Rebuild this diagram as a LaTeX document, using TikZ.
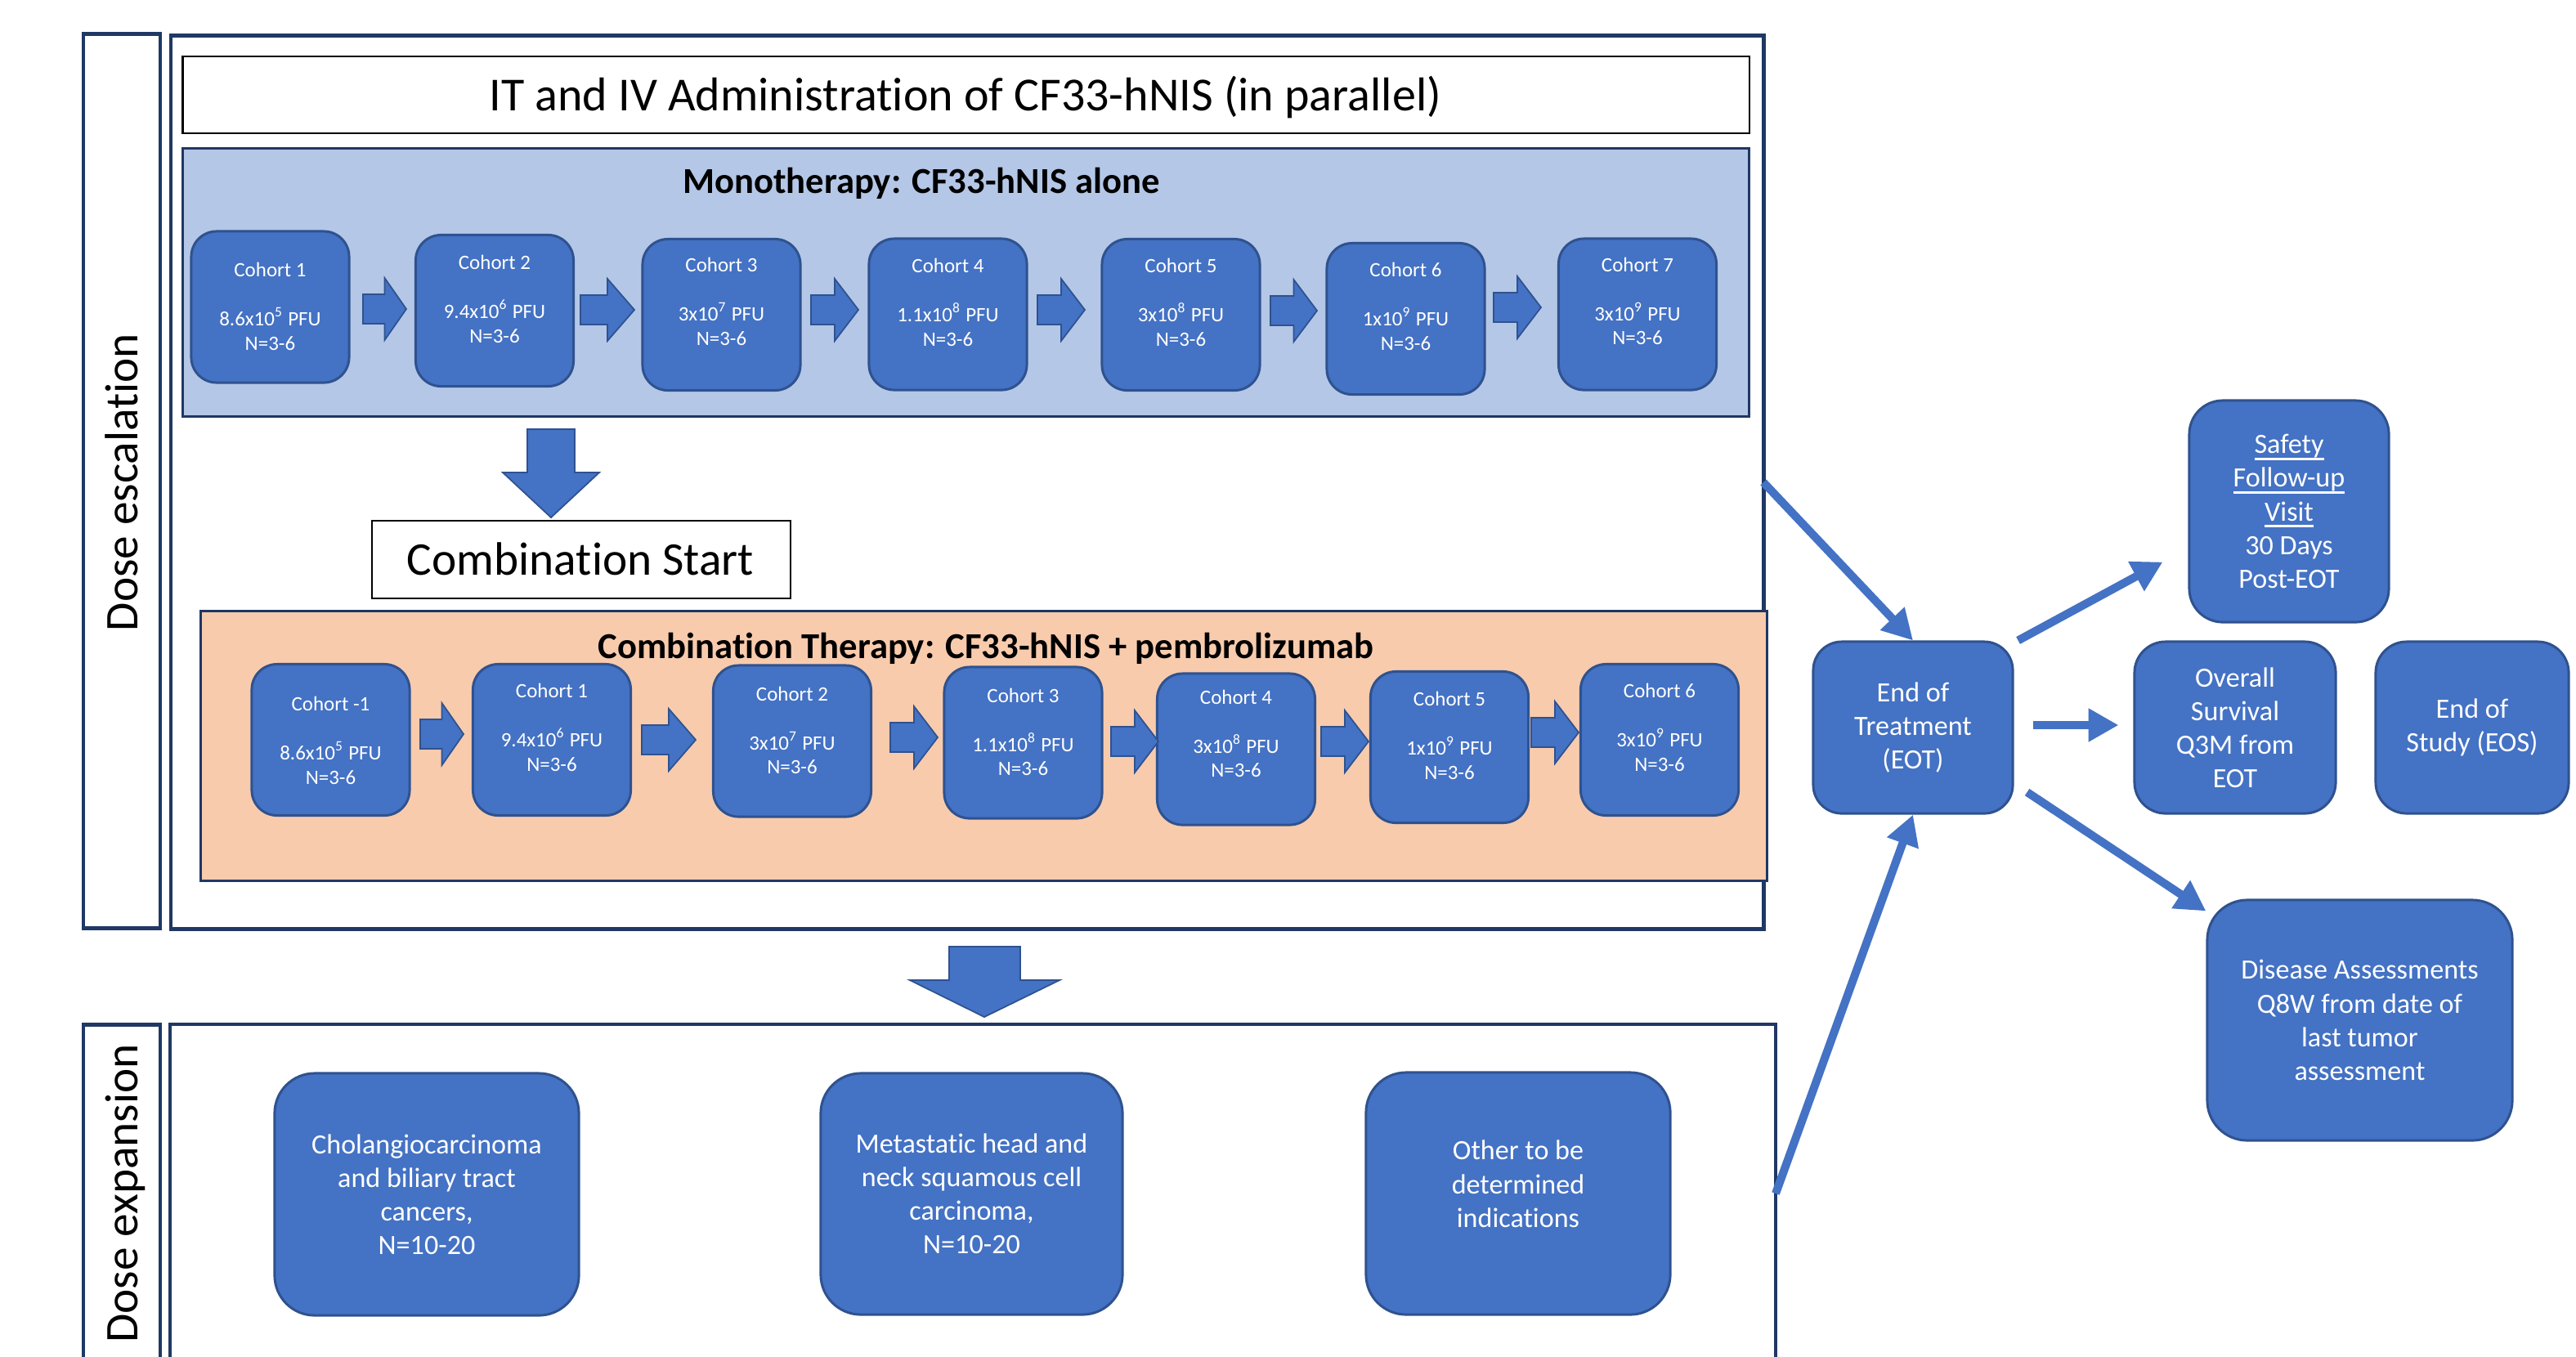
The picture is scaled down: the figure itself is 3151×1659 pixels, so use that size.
\documentclass[tikz,border=0pt]{standalone}
\usepackage{fontspec}
\setmainfont{Carlito}[Ligatures=NoCommon]
\usetikzlibrary{arrows.meta,calc}
\definecolor{boxblue}{HTML}{4472C4}
\definecolor{boxedge}{HTML}{2F528F}
\definecolor{monofill}{HTML}{B4C7E7}
\definecolor{combofill}{HTML}{F8CBAD}
\definecolor{navy}{HTML}{1F3864}
\newcommand\rblock[3]{%
  \filldraw[blockarrow] (#1,#3-18) -- ({(#1+#2)/2},#3-18) -- ({(#1+#2)/2},#3-38) -- (#2,#3) -- ({(#1+#2)/2},#3+38) -- ({(#1+#2)/2},#3+18) -- (#1,#3+18) -- cycle;}
\newcommand\thickul[1]{\setbox0\hbox{#1}\rlap{\raisebox{-2.2pt}{\rule{\wd0}{0.75pt}}}\box0}
\begin{document}
\begin{tikzpicture}[x=0.01cm, y=-0.01cm,
  cohort/.style={draw=boxedge, line width=0.85pt, fill=boxblue, rounded corners=0.31cm, minimum width=1.93cm, minimum height=1.85cm, inner sep=0pt},
  ctext/.style={text=white, font=\fontsize{7.1}{8.5}\selectfont, align=center, inner sep=0pt},
  bigbox/.style={draw=boxedge, line width=0.85pt, fill=boxblue, text=white, font=\fontsize{9.7}{11.7}\selectfont, align=center, inner sep=0pt},
  blockarrow/.style={fill=boxblue, draw=boxedge, line width=0.5pt},
  conn/.style={draw=boxblue, line width=2.85pt, -{Triangle[length=10.5pt,width=11pt]}},
  navybox/.style={draw=navy, line width=1.42pt},
  bigtext/.style={font=\fontsize{16.3}{19}\selectfont, inner sep=0pt},
  headtext/.style={font=\bfseries\fontsize{12.7}{15}\selectfont, inner sep=0pt},
]
\useasboundingbox (0,0) rectangle (3151,1659);
\clip (0,0) rectangle (3151,1659);
\fill[white] (0,0) rectangle (3151,1659);

% side label boxes
\draw[navybox] (102,41) rectangle (196,1135);
\draw[navybox] (102,1253) rectangle (196,1720);
\node[bigtext, rotate=90, anchor=base] (esc) at (168,590) {Dose escalation};
\node[bigtext, rotate=90, anchor=base] (expn) at (168,1460) {Dose expansion};

% main boxes
\draw[navybox] (209,43) rectangle (2157,1136);
\draw[draw=navy, line width=1.1pt] (208,1253) rectangle (2172,1720);

% title
\node[draw=black, line width=0.6pt, minimum width=19.15cm, minimum height=0.94cm, inner sep=0pt] (titlebox) at (1181.5,116) {};
\node[bigtext, font=\fontsize{16.5}{19}\selectfont, anchor=base] (titletext) at (1181,135) {IT and IV Administration of CF33-hNIS (in parallel)};

% monotherapy
\node[draw=navy, line width=0.85pt, fill=monofill, minimum width=19.15cm, minimum height=3.27cm, inner sep=0pt] (mono) at (1181.5,345.5) {};
\node[headtext, anchor=base] (monotitle) at (1127,236) {Monotherapy: CF33-hNIS alone};

\node[cohort] (m1) at (330.5,375.5) {};
\node[cohort] (m2) at (605,380) {};
\node[cohort] (m3) at (882.5,385) {};
\node[cohort] (m4) at (1159.5,384.5) {};
\node[cohort] (m5) at (1444.5,385) {};
\node[cohort] (m6) at (1719.5,390) {};
\node[cohort] (m7) at (2003,384.5) {};
\node[ctext] (m1t) at (330.5,375) {Cohort 1\\[8.5pt]8.6x10\textsuperscript{5} PFU\\N=3-6};
\node[ctext] (m2t) at (605,366) {Cohort 2\\[8.5pt]9.4x10\textsuperscript{6} PFU\\N=3-6};
\node[ctext] (m3t) at (882.5,369) {Cohort 3\\[8.5pt]3x10\textsuperscript{7} PFU\\N=3-6};
\node[ctext] (m4t) at (1159.5,370) {Cohort 4\\[8.5pt]1.1x10\textsuperscript{8} PFU\\N=3-6};
\node[ctext] (m5t) at (1444.5,370) {Cohort 5\\[8.5pt]3x10\textsuperscript{8} PFU\\N=3-6};
\node[ctext] (m6t) at (1719.5,375) {Cohort 6\\[8.5pt]1x10\textsuperscript{9} PFU\\N=3-6};
\node[ctext] (m7t) at (2003,368.5) {Cohort 7\\[8.5pt]3x10\textsuperscript{9} PFU\\N=3-6};
\rblock{444}{497}{378}
\rblock{710}{776}{379}
\rblock{992}{1050}{379}
\rblock{1269}{1327}{379}
\rblock{1554}{1611}{380}
\rblock{1827}{1885}{376}

% down arrow to combination start
\filldraw[blockarrow] (645,525) -- (703,525) -- (703,578) -- (733,578) -- (674,633) -- (615,578) -- (645,578) -- cycle;
\node[draw=black, line width=0.6pt, minimum width=5.12cm, minimum height=0.95cm, inner sep=0pt] (cstart) at (711,684.5) {};
\node[bigtext, anchor=base] (cstarttext) at (710,703) {Combination Start};

% combination therapy
\node[draw=navy, line width=0.85pt, fill=combofill, minimum width=19.15cm, minimum height=3.29cm, inner sep=0pt] (combo) at (1203.5,912.5) {};
\node[headtext, anchor=base] (combotitle) at (1206,805) {Combination Therapy: CF33-hNIS + pembrolizumab};

\node[cohort] (k0) at (404.5,905) {};
\node[cohort] (k1) at (675,905) {};
\node[cohort] (k2) at (969,906.5) {};
\node[cohort] (k3) at (1251.5,908.5) {};
\node[cohort] (k4) at (1512,916.5) {};
\node[cohort] (k5) at (1773,914) {};
\node[cohort] (k6) at (2030,905) {};
\node[ctext] (k0t) at (404.5,906) {Cohort -1\\[8.5pt]8.6x10\textsuperscript{5} PFU\\N=3-6};
\node[ctext] (k1t) at (675,890) {Cohort 1\\[8.5pt]9.4x10\textsuperscript{6} PFU\\N=3-6};
\node[ctext] (k2t) at (969,893.5) {Cohort 2\\[8.5pt]3x10\textsuperscript{7} PFU\\N=3-6};
\node[ctext] (k3t) at (1251.5,895.5) {Cohort 3\\[8.5pt]1.1x10\textsuperscript{8} PFU\\N=3-6};
\node[ctext] (k4t) at (1512,897.5) {Cohort 4\\[8.5pt]3x10\textsuperscript{8} PFU\\N=3-6};
\node[ctext] (k5t) at (1773,900) {Cohort 5\\[8.5pt]1x10\textsuperscript{9} PFU\\N=3-6};
\node[ctext] (k6t) at (2030,890) {Cohort 6\\[8.5pt]3x10\textsuperscript{9} PFU\\N=3-6};
\rblock{514}{567}{898}
\rblock{785}{851}{905}
\rblock{1089}{1147}{902}
\rblock{1359}{1417}{907}
\rblock{1616}{1674}{907}
\rblock{1873}{1931}{896}

% big down arrow to expansion
\filldraw[blockarrow] (1161,1158) -- (1248,1158) -- (1248,1199) -- (1296,1199) -- (1204,1244) -- (1113,1199) -- (1161,1199) -- cycle;

% expansion boxes
\node[bigbox, rounded corners=0.49cm, minimum width=3.72cm, minimum height=2.96cm] (e1) at (522,1461) {Cholangiocarcinoma\\and biliary tract\\cancers,\\N=10-20};
\node[bigbox, rounded corners=0.49cm, minimum width=3.69cm, minimum height=2.95cm] (e2) at (1188.5,1460.5) {Metastatic head and\\neck squamous cell\\carcinoma,\\N=10-20};
\node[bigbox, rounded corners=0.49cm, minimum width=3.72cm, minimum height=2.96cm] (e3) at (1857,1460) {Other to be\\determined\\indications\\[-5pt]\mbox{}};

% right side
\node[bigbox, rounded corners=0.35cm, minimum width=2.44cm, minimum height=2.10cm] (eot) at (2340,890) {End of\\Treatment\\(EOT)};
\node[bigbox, rounded corners=0.41cm, minimum width=2.44cm, minimum height=2.71cm] (safety) at (2800,625.5) {\thickul{Safety}\\\thickul{Follow-up}\\\thickul{Visit}\\30 Days\\Post-EOT};
\node[bigbox, rounded corners=0.38cm, minimum width=2.46cm, minimum height=2.10cm] (ovs) at (2734,890) {Overall\\Survival\\Q3M from\\EOT};
\node[bigbox, rounded corners=0.38cm, minimum width=2.36cm, minimum height=2.10cm] (eos) at (3024,890) {End of\\Study (EOS)};
\node[bigbox, rounded corners=0.49cm, minimum width=3.73cm, minimum height=2.94cm] (dis) at (2886.5,1248) {Disease Assessments\\Q8W from date of\\last tumor\\assessment};

\coordinate (mainR) at (2157,590);
\coordinate (expR) at (2172,1460);
\draw[conn] (mainR) -- (eot.north);
\draw[conn] (expR) -- (eot.south);
\draw[conn] ($(eot.north east)+(5,0)$) -- ($(safety.west)+(-31,62)$);
\draw[conn] ($(eot.east)+(23,-3)$) -- ($(ovs.west)+(-18,-3)$);
\draw[conn] ($(eot.east)+(16,79)$) -- ($(dis.north west)+(0,15)$);
\end{tikzpicture}
\end{document}
